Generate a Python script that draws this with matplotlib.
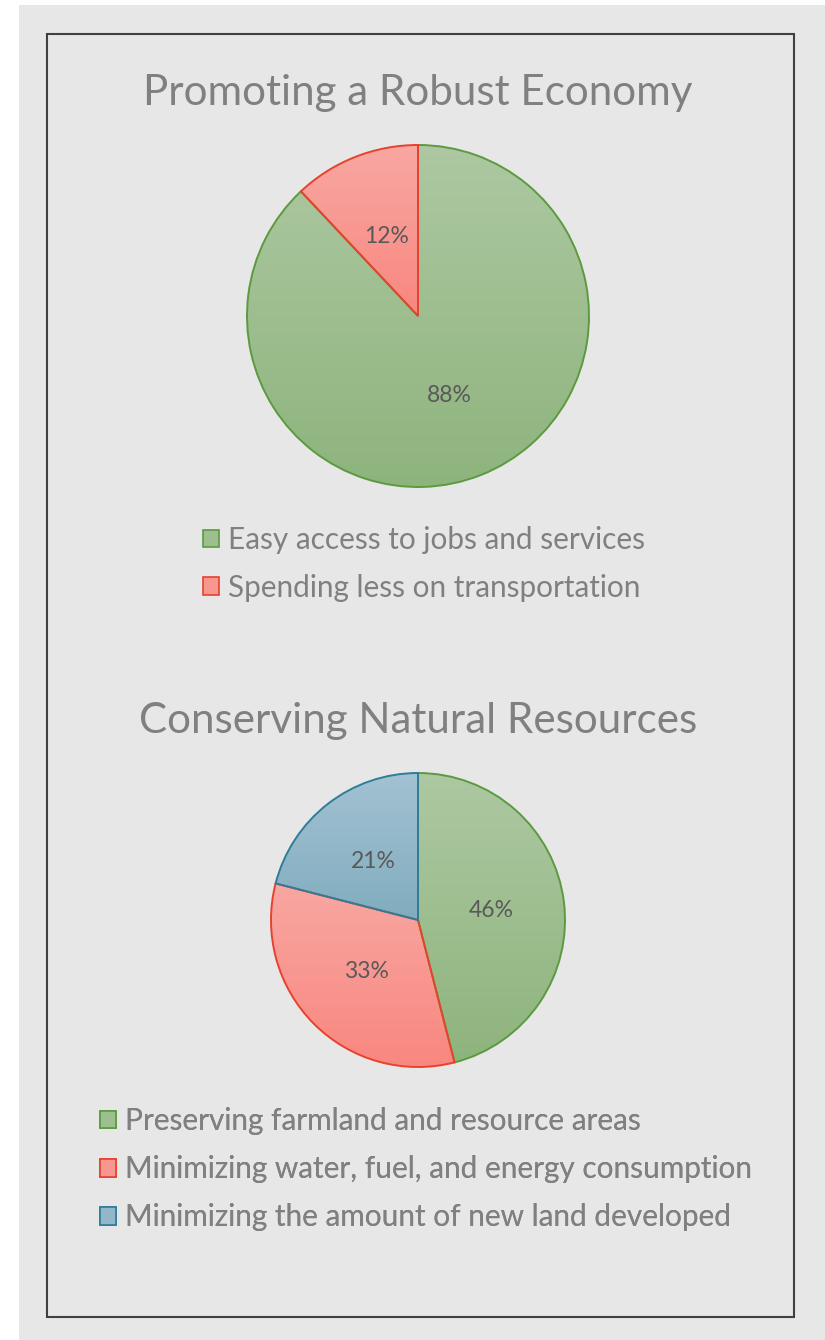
"""Two pie charts on a gray panel: economy and natural resources survey shares."""

import numpy as np
import matplotlib.pyplot as plt
from matplotlib.colors import LinearSegmentedColormap
from matplotlib.patches import Patch, Rectangle

W, H = 825, 1340

economy_title = "Promoting a Robust Economy"
economy_labels = ["Easy access to jobs and services", "Spending less on transportation"]
economy_values = [88, 12]

resources_title = "Conserving Natural Resources"
resources_labels = [
    "Preserving farmland and resource areas",
    "Minimizing water, fuel, and energy consumption",
    "Minimizing the amount of new land developed",
]
resources_values = [46, 33, 21]

# (top of gradient, bottom of gradient, outline)
GREEN = ("#adc8a2", "#8eb47d", "#5b9a3f")
RED = ("#f9a7a2", "#f8877f", "#e8412e")
BLUE = ("#a3c2d2", "#80adbf", "#2f7d99")

FONT = "Lato"
TEXT_GRAY = "#808080"
PCT_GRAY = "#595959"


def y(px):
    # convert a top-down pixel row into the axes' bottom-up coordinate
    return H - px


def gradient_pie(ax, values, styles, center, radius):
    wedges, _, autotexts = ax.pie(
        values,
        center=center,
        radius=radius,
        startangle=90,
        counterclock=False,
        autopct="%1.0f%%",
        pctdistance=0.5,
        wedgeprops=dict(facecolor="none", linewidth=1.4),
        textprops=dict(color=PCT_GRAY, fontsize=16.5, family=FONT),
    )
    grad = np.linspace(0, 1, 256).reshape(-1, 1)
    for wedge, (top, bottom, edge) in zip(wedges, styles):
        wedge.set_edgecolor(edge)
        wedge.set_zorder(3)
        ext = wedge.get_path().get_extents()
        cmap = LinearSegmentedColormap.from_list("g", [top, bottom])
        im = ax.imshow(
            grad,
            cmap=cmap,
            extent=[ext.x0, ext.x1, ext.y0, ext.y1],
            aspect="auto",
            zorder=2,
            interpolation="bilinear",
        )
        im.set_clip_path(wedge)
    for t in autotexts:
        t.set_zorder(4)
    return wedges


def add_legend(ax, labels, styles, anchor, spacing):
    handles = []
    for top, bottom, edge in styles:
        mid = LinearSegmentedColormap.from_list("m", [top, bottom])(0.5)
        handles.append(Patch(facecolor=mid, edgecolor=edge, linewidth=1.2))
    leg = ax.legend(
        handles,
        labels,
        loc="upper left",
        bbox_to_anchor=anchor,
        bbox_transform=ax.transData,
        frameon=False,
        borderpad=0,
        borderaxespad=0,
        handlelength=0.55,
        handleheight=0.55,
        handletextpad=0.3,
        labelspacing=spacing,
        prop=dict(family=FONT, size=21.4),
        labelcolor=TEXT_GRAY,
    )
    ax.add_artist(leg)


fig = plt.figure(figsize=(W / 100, H / 100), dpi=100, facecolor="white")
ax = fig.add_axes([0, 0, 1, 1])

ax.add_patch(Rectangle((19, 0), W - 19, y(5), facecolor="#e7e7e7", edgecolor="none", zorder=0))
ax.add_patch(
    Rectangle((47, y(1317)), 794 - 47, 1317 - 34, facecolor="none", edgecolor="#404040", linewidth=1.5, zorder=1)
)

ax.text(418, y(93), economy_title, ha="center", va="center", fontsize=30.3, color=TEXT_GRAY, family=FONT)
ax.text(418, y(721), resources_title, ha="center", va="center", fontsize=30.3, color=TEXT_GRAY, family=FONT)

gradient_pie(ax, economy_values, [GREEN, RED], (418, y(316)), 171)
gradient_pie(ax, resources_values, [GREEN, RED, BLUE], (418, y(920)), 147)

add_legend(ax, economy_labels, [GREEN, RED], (203, y(526)), 0.67)
add_legend(ax, resources_labels, [GREEN, RED, BLUE], (100, y(1107)), 0.68)

ax.set_xlim(0, W)
ax.set_ylim(0, H)
ax.set_aspect("auto")
ax.axis("off")

fig.savefig("out.png", dpi=100, facecolor="white")
plt.close(fig)
